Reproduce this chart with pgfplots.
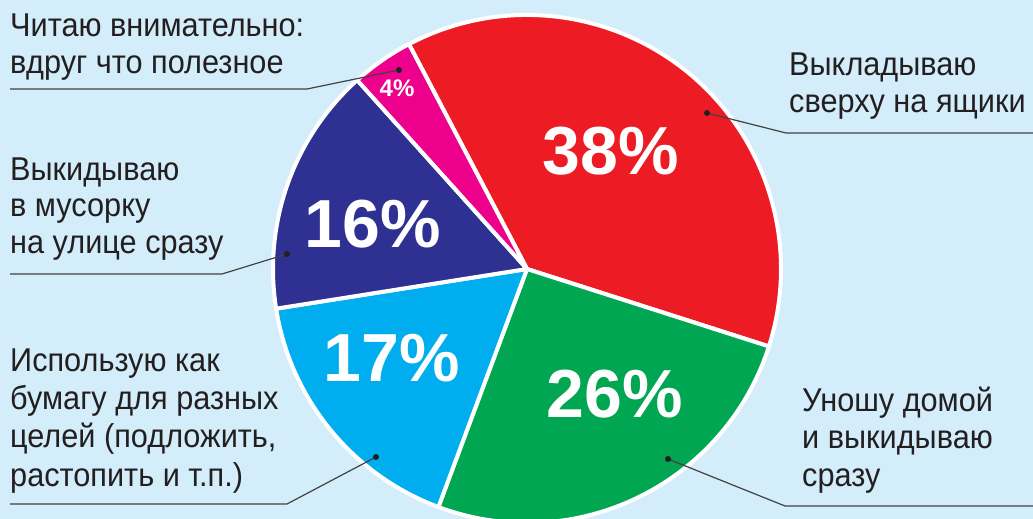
\documentclass[border=0pt]{standalone}
\usepackage{pgfplots}
\pgfplotsset{compat=1.18}
\usepackage{pgfplotstable}
\usepackage{fontspec}
\setmainfont{Liberation Sans}
\newfontfamily\labelfont{Liberation Sans}[FakeStretch=0.93]

\definecolor{bgblue}{HTML}{D3EEFA}
\definecolor{pieRed}{HTML}{ED1C24}
\definecolor{pieGreen}{HTML}{00A651}
\definecolor{pieCyan}{HTML}{00AEEF}
\definecolor{pieNavy}{HTML}{2E3192}
\definecolor{pieMagenta}{HTML}{EC008C}
\definecolor{txt}{HTML}{231F20}

% shares in percent, clockwise from the top
\pgfplotstableread{
value colour
38 pieRed
26 pieGreen
17 pieCyan
16 pieNavy
4  pieMagenta
}\piedata

\begin{document}
\begin{tikzpicture}
\begin{axis}[
    x=1pt, y=1pt,
    xmin=0, xmax=1033, ymin=0, ymax=519,
    hide axis, clip=true,
  ]
  \fill[bgblue] (axis cs:0,0) rectangle (axis cs:1033,519);

  \pgfplotstablegetrowsof{\piedata}
  \pgfmathtruncatemacro\lastrow{\pgfplotsretval-1}
  \def\total{0}
  \pgfplotsforeachungrouped \i in {0,...,\lastrow}{%
    \pgfplotstablegetelem{\i}{value}\of\piedata
    \pgfmathsetmacro\total{\total+\pgfplotsretval}%
  }
  \def\cx{527}\def\cy{250}\def\R{254}
  \def\cur{117.7}
  \pgfplotsforeachungrouped \i in {0,...,\lastrow}{%
    \pgfplotstablegetelem{\i}{value}\of\piedata \let\v\pgfplotsretval
    \pgfplotstablegetelem{\i}{colour}\of\piedata \let\c\pgfplotsretval
    \pgfmathsetmacro\nxt{\cur-\v*360/\total}%
    \pgfmathsetmacro\xa{\cx+\R*cos(\cur)}%
    \pgfmathsetmacro\ya{\cy+\R*sin(\cur)}%
    \edef\doslice{\noexpand\fill[\c, draw=white, line width=4pt, line join=round]
      (axis cs:\cx,\cy) -- (axis cs:\xa,\ya)
      arc[start angle=\cur, end angle=\nxt, radius=\R pt] -- cycle;}%
    \doslice
    \let\cur\nxt
  }

  % leader lines
  \begin{scope}[draw=txt!85, line width=1.2pt]
    \draw (axis cs:10,430) -- (axis cs:307,430) -- (axis cs:399,449);
    \draw (axis cs:1033,386) -- (axis cs:786,386) -- (axis cs:707,406);
    \draw (axis cs:10,245) -- (axis cs:222,245) -- (axis cs:287,265);
    \draw (axis cs:10,15) -- (axis cs:287,15) -- (axis cs:376,62);
    \draw (axis cs:1033,13) -- (axis cs:785,13) -- (axis cs:668,60);
  \end{scope}
  \fill[txt] (axis cs:399,449) circle[radius=3pt];
  \fill[txt] (axis cs:707,406) circle[radius=3pt];
  \fill[txt] (axis cs:287,265) circle[radius=3pt];
  \fill[txt] (axis cs:376,62) circle[radius=3pt];
  \fill[txt] (axis cs:668,60) circle[radius=3pt];

  % category labels
  \begin{scope}[every node/.style={anchor=base west, inner sep=0pt, text=txt,
      font=\labelfont\fontsize{33}{37}\selectfont}]
    \node at (axis cs:10,482) {Читаю внимательно:};
    \node at (axis cs:10,445) {вдруг что полезное};
    \node at (axis cs:789,443) {Выкладываю};
    \node at (axis cs:789,406) {сверху на ящики};
    \node at (axis cs:10,338) {Выкидываю};
    \node at (axis cs:10,302) {в мусорку};
    \node at (axis cs:10,265) {на улице сразу};
    \node at (axis cs:10,147) {Использую как};
    \node at (axis cs:10,109) {бумагу для разных};
    \node at (axis cs:10,71) {целей (подложить,};
    \node at (axis cs:10,32) {растопить и т.п.)};
    \node at (axis cs:802,107) {Уношу домой};
    \node at (axis cs:802,70) {и выкидываю};
    \node at (axis cs:802,32) {сразу};
  \end{scope}

  % percentages
  \begin{scope}[every node/.style={anchor=base, inner sep=0pt, text=white,
      font=\fontsize{68}{70}\selectfont\bfseries}]
    \node at (axis cs:611,344) {38\%};
    \node at (axis cs:615,101) {26\%};
    \node at (axis cs:392,137) {17\%};
    \node at (axis cs:373,271) {16\%};
    \node[font=\fontsize{24}{26}\selectfont\bfseries] at (axis cs:397,422) {4\%};
  \end{scope}
\end{axis}
\pgfresetboundingbox
\useasboundingbox (current axis.south west) rectangle (current axis.north east);
\end{tikzpicture}
\end{document}
